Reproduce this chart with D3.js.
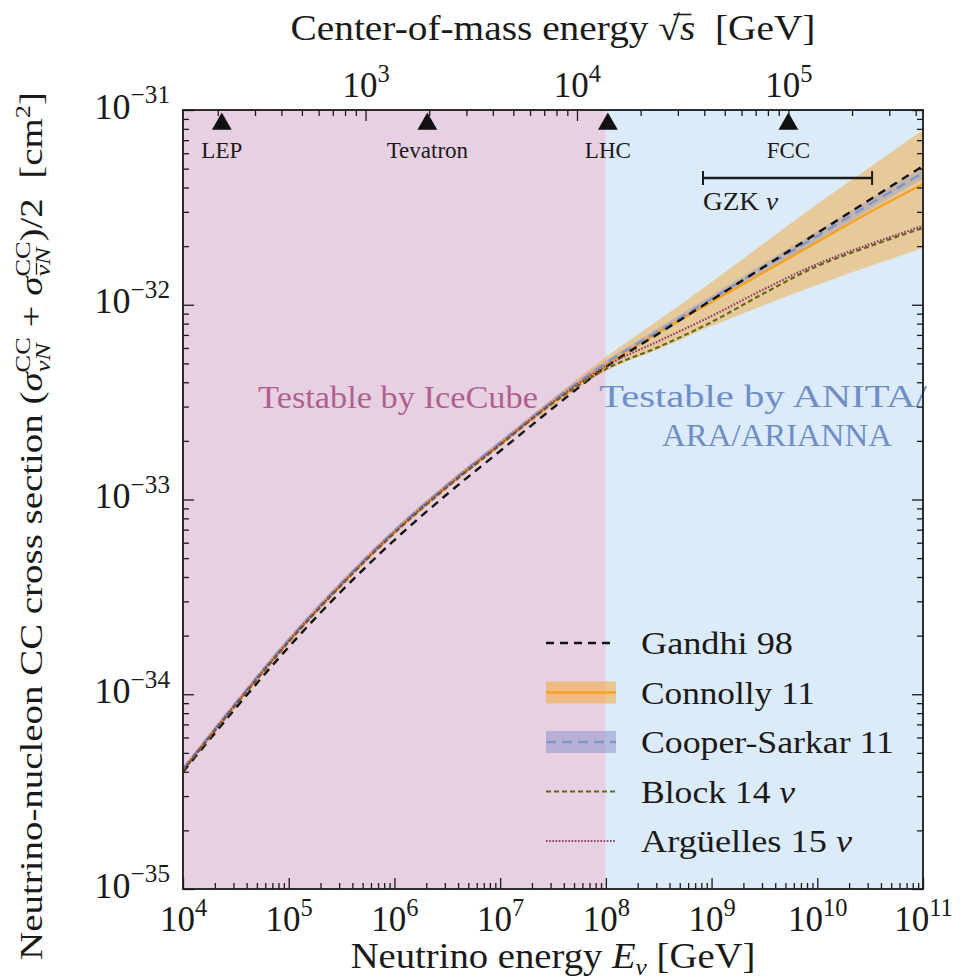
<!DOCTYPE html>
<html>
<head>
<meta charset="UTF-8">
<title>Neutrino-nucleon CC cross section</title>
<style>
body { margin: 0; background: #fff; }
svg text { font-family: "Liberation Serif", "Times New Roman", serif; fill: #1a1a1a; }
.axis .domain { display: none; }
.axis line { stroke: #1a1a1a; }
</style>
</head>
<body>
<div id="chart"></div>
<script src="https://cdn.jsdelivr.net/npm/d3@7"></script>
<script>
// neutrino energies [GeV], half-decade steps
var energy = [1e4, 3.162e4, 1e5, 3.162e5, 1e6, 3.162e6, 1e7, 3.162e7,
              1e8, 3.162e8, 1e9, 3.162e9, 1e10, 3.162e10, 1e11];

// cross sections [cm^2]
var gandhi98 = [3.99e-35, 8.50e-35, 1.748e-34, 3.39e-34, 6.19e-34, 1.067e-33, 1.774e-33, 2.95e-33,
                4.79e-33, 7.12e-33, 1.057e-32, 1.571e-32, 2.335e-32, 3.47e-32, 5.16e-32];
var connolly11 = [4.08e-35, 8.91e-35, 1.877e-34, 3.68e-34, 6.81e-34, 1.173e-33, 1.928e-33, 3.167e-33,
                  4.905e-33, 7.25e-33, 1.033e-32, 1.473e-32, 2.10e-32, 2.995e-32, 4.17e-32];
var connollyHigh = [4.23e-35, 9.23e-35, 1.945e-34, 3.815e-34, 7.055e-34, 1.215e-33, 1.997e-33, 3.32e-33,
                    5.39e-33, 8.35e-33, 1.309e-32, 2.076e-32, 3.29e-32, 5.10e-32, 7.89e-32];
var connollyLow = [3.94e-35, 8.60e-35, 1.811e-34, 3.553e-34, 6.57e-34, 1.132e-33, 1.86e-33, 3.02e-33,
                   4.57e-33, 5.93e-33, 7.78e-33, 9.97e-33, 1.263e-32, 1.58e-32, 1.956e-32];
var cooperSarkar11 = [4.13e-35, 9.02e-35, 1.90e-34, 3.725e-34, 6.89e-34, 1.187e-33, 1.95e-33, 3.205e-33,
                      5.02e-33, 7.33e-33, 1.07e-32, 1.56e-32, 2.25e-32, 3.29e-32, 4.75e-32];
var cooperSarkarHigh = [4.25e-35, 9.29e-35, 1.96e-34, 3.84e-34, 7.10e-34, 1.22e-33, 2.01e-33, 3.30e-33,
                        5.17e-33, 7.62e-33, 1.12e-32, 1.64e-32, 2.39e-32, 3.49e-32, 5.08e-32];
var cooperSarkarLow = [4.01e-35, 8.75e-35, 1.84e-34, 3.61e-34, 6.68e-34, 1.15e-33, 1.89e-33, 3.11e-33,
                       4.87e-33, 7.04e-33, 1.02e-32, 1.48e-32, 2.12e-32, 3.09e-32, 4.42e-32];
var block14 = [4.04e-35, 8.81e-35, 1.855e-34, 3.64e-34, 6.73e-34, 1.159e-33, 1.905e-33, 3.13e-33,
               4.68e-33, 6.07e-33, 8.15e-33, 1.149e-32, 1.58e-32, 2.00e-32, 2.48e-32];
var arguelles15 = [4.08e-35, 8.91e-35, 1.877e-34, 3.68e-34, 6.81e-34, 1.173e-33, 1.928e-33, 3.167e-33,
                   4.85e-33, 6.51e-33, 8.75e-33, 1.205e-32, 1.62e-32, 2.05e-32, 2.54e-32];

// shaded regions
var regionNames = ["IceCube", "ANITA"];
var regionFrom = [1e4, 1e8];
var regionTo = [1e8, 1e11];

// colliders on the sqrt(s) axis [GeV]
var colliders = ["LEP", "Tevatron", "LHC", "FCC"];
var colliderSqrtS = [209, 1960, 14000, 100000];

// GZK neutrino energy range [GeV]
var gzkRange = [8.3e8, 3.3e10];

var xTicks = [1e4, 1e5, 1e6, 1e7, 1e8, 1e9, 1e10, 1e11];
var yTicks = [1e-35, 1e-34, 1e-33, 1e-32, 1e-31];
var topTicks = [1e3, 1e4, 1e5];

var legendNames = ["Gandhi 98", "Connolly 11", "Cooper-Sarkar 11", "Block 14 ", "Arg\u00fcelles 15 "];

var width = 960, height = 980;
var plotL = 183, plotR = 923, plotT = 110, plotB = 889;
var mN = 0.938;

var svg = d3.select("#chart").append("svg")
  .attr("width", width)
  .attr("height", height);

var x = d3.scaleLog().domain([1e4, 1e11]).range([plotL, plotR]);
var y = d3.scaleLog().domain([1e-35, 1e-31]).range([plotB, plotT]);
// sqrt(s) = sqrt(2 m_N E)
var xs = d3.scaleLog()
  .domain([Math.sqrt(2 * mN * 1e4), Math.sqrt(2 * mN * 1e11)])
  .range([plotL, plotR]);

// writes runs of text with sub/superscripts into a text element,
// returns where each run starts and the total advance
function richText(sel, runs) {
  var cur = 0, supLen = 0, pad = 0, cursor = 0, starts = [], lens = [];
  runs.forEach(function(r) {
    var sh = r.shift || 0;
    var ts = sel.append("tspan").text(r.t);
    if (sh - cur) ts.attr("dy", sh - cur);
    cur = sh;
    if (r.fs) ts.attr("font-size", r.fs);
    if (r.it) ts.attr("font-style", "italic");
    var l;
    if (r.stack) {
      ts.attr("dx", -supLen);
      l = ts.node().getComputedTextLength();
      starts.push(cursor - supLen);
      cursor = Math.max(cursor, cursor - supLen + l);
      pad = Math.max(0, supLen - l);
    } else {
      if (pad) ts.attr("dx", pad);
      pad = 0;
      l = ts.node().getComputedTextLength();
      supLen = l;
      starts.push(cursor);
      cursor += l;
    }
    lens.push(l);
  });
  return { starts: starts, lens: lens, total: cursor, nodes: sel.selectAll("tspan").nodes() };
}

// stretch a text horizontally (in its own frame) to a target width
function fitWidth(text, target, tx, ty, rot) {
  var w = text.node().getBBox().width;
  var k = target / w;
  text.attr("transform", "translate(" + tx + "," + ty + ")" + (rot ? " rotate(" + rot + ")" : "") + " scale(" + k + ",1)");
}

svg.append("clipPath").attr("id", "plotclip")
  .append("rect")
  .attr("x", plotL).attr("y", plotT)
  .attr("width", plotR - plotL).attr("height", plotB - plotT);

// background regions
var regionColors = ["#e8d0e3", "#dcebf9"];
svg.selectAll("rect.region")
  .data(regionNames)
  .enter()
  .append("rect")
  .attr("class", "region")
  .attr("x", function(d, i) { return x(regionFrom[i]); })
  .attr("y", plotT)
  .attr("width", function(d, i) { return x(regionTo[i]) - x(regionFrom[i]); })
  .attr("height", plotB - plotT)
  .attr("fill", function(d, i) { return regionColors[i]; });

// region labels
var t1 = svg.append("text")
  .attr("text-anchor", "middle")
  .attr("font-size", 32)
  .style("fill", "#b0608e")
  .text("Testable by IceCube");
fitWidth(t1, 280, 398, 408);
var t2 = svg.append("text")
  .attr("text-anchor", "middle")
  .attr("font-size", 32)
  .style("fill", "#6f8ec6")
  .text("Testable by ANITA/");
fitWidth(t2, 328, 763, 407);
var t3 = svg.append("text")
  .attr("text-anchor", "middle")
  .attr("font-size", 32)
  .style("fill", "#6f8ec6")
  .text("ARA/ARIANNA");
fitWidth(t3, 230, 777, 446);

var plot = svg.append("g").attr("clip-path", "url(#plotclip)");

var band = d3.area()
  .x(function(d, i) { return x(energy[i]); })
  .curve(d3.curveMonotoneX);
var line = d3.line()
  .x(function(d, i) { return x(energy[i]); })
  .y(function(d) { return y(d); })
  .curve(d3.curveMonotoneX);

// uncertainty bands
plot.append("path")
  .datum(connolly11)
  .attr("d", band.y0(function(d, i) { return y(connollyLow[i]); })
                 .y1(function(d, i) { return y(connollyHigh[i]); }))
  .attr("fill", "#f2a93b")
  .attr("fill-opacity", 0.5);
plot.append("path")
  .datum(cooperSarkar11)
  .attr("d", band.y0(function(d, i) { return y(cooperSarkarLow[i]); })
                 .y1(function(d, i) { return y(cooperSarkarHigh[i]); }))
  .attr("fill", "#8f93cc")
  .attr("fill-opacity", 0.4);

// model curves
var curves = [
  { data: connolly11, color: "#f7a21f", w: 2.4, dash: null },
  { data: cooperSarkar11, color: "#7f97c6", w: 2.4, dash: "10,6" },
  { data: gandhi98, color: "#111", w: 2.4, dash: "8,6" },
  { data: block14, color: "#66691c", w: 2.2, dash: "5,3" },
  { data: arguelles15, color: "#8e3d6e", w: 2.2, dash: "1.6,1.6" }
];
plot.selectAll("path.curve")
  .data(curves)
  .enter()
  .append("path")
  .attr("class", "curve")
  .attr("d", function(d) { return line(d.data); })
  .attr("fill", "none")
  .attr("stroke", function(d) { return d.color; })
  .attr("stroke-width", function(d) { return d.w; })
  .attr("stroke-dasharray", function(d) { return d.dash; });

// GZK range bar
var gzk = svg.append("g");
gzk.append("line")
  .attr("x1", x(gzkRange[0])).attr("x2", x(gzkRange[1]))
  .attr("y1", 178).attr("y2", 178)
  .attr("stroke", "#1a1a1a").attr("stroke-width", 2.6);
gzk.selectAll("line.cap")
  .data(gzkRange)
  .enter()
  .append("line")
  .attr("class", "cap")
  .attr("x1", function(d) { return x(d); }).attr("x2", function(d) { return x(d); })
  .attr("y1", 171).attr("y2", 185)
  .attr("stroke", "#1a1a1a").attr("stroke-width", 2);
var gzkText = gzk.append("text").attr("font-size", 25);
richText(gzkText, [{ t: "GZK " }, { t: "\u03bd", it: true }]);
fitWidth(gzkText, 76, x(gzkRange[0]), 210);

// collider markers
var cm = svg.selectAll("g.collider")
  .data(colliders)
  .enter()
  .append("g")
  .attr("class", "collider")
  .attr("transform", function(d, i) { return "translate(" + xs(colliderSqrtS[i]) + ",0)"; });
cm.append("path")
  .attr("d", d3.symbol(d3.symbolTriangle, 170))
  .attr("transform", "translate(0,124)")
  .attr("fill", "#111");
cm.append("text")
  .attr("y", 158)
  .attr("text-anchor", "middle")
  .attr("font-size", 23)
  .text(function(d) { return d; });

// axes
function minorOf(scale, majors) {
  return scale.ticks().filter(function(v) {
    return !majors.some(function(m) { return Math.abs(v / m - 1) < 1e-6; });
  });
}
function expLabels(g, size) {
  g.selectAll(".tick text").each(function(d) {
    var t = d3.select(this).text("").attr("font-size", size);
    var e = Math.round(Math.log10(d));
    richText(t, [
      { t: "10" },
      { t: (e < 0 ? "\u2212" + (-e) : "" + e), fs: size * 0.7, shift: -size * 0.42 }
    ]);
  });
}

var gxB = svg.append("g").attr("class", "axis")
  .attr("transform", "translate(0," + plotB + ")")
  .call(d3.axisBottom(x).tickValues(xTicks).tickSize(-11).tickPadding(16));
gxB.selectAll(".tick text").attr("dy", null).attr("y", 42);
expLabels(gxB, 35);
svg.append("g").attr("class", "axis")
  .attr("transform", "translate(0," + plotB + ")")
  .call(d3.axisBottom(x).tickValues(minorOf(x, xTicks)).tickSize(-6).tickFormat(""));

var gyL = svg.append("g").attr("class", "axis")
  .attr("transform", "translate(" + plotL + ",0)")
  .call(d3.axisLeft(y).tickValues(yTicks).tickSize(-11).tickPadding(13));
gyL.selectAll(".tick text").attr("dy", null).attr("y", 8);
expLabels(gyL, 36);
svg.append("g").attr("class", "axis")
  .attr("transform", "translate(" + plotL + ",0)")
  .call(d3.axisLeft(y).tickValues(minorOf(y, yTicks)).tickSize(-6).tickFormat(""));

svg.append("g").attr("class", "axis")
  .attr("transform", "translate(" + plotR + ",0)")
  .call(d3.axisRight(y).tickValues(yTicks).tickSize(-11).tickFormat(""));
svg.append("g").attr("class", "axis")
  .attr("transform", "translate(" + plotR + ",0)")
  .call(d3.axisRight(y).tickValues(minorOf(y, yTicks)).tickSize(-6).tickFormat(""));

var gxT = svg.append("g").attr("class", "axis")
  .attr("transform", "translate(0," + plotT + ")")
  .call(d3.axisTop(xs).tickValues(topTicks).tickSize(-11).tickPadding(13));
gxT.selectAll(".tick text").attr("dy", null).attr("y", -13);
expLabels(gxT, 35);
svg.append("g").attr("class", "axis")
  .attr("transform", "translate(0," + plotT + ")")
  .call(d3.axisTop(xs).tickValues(minorOf(xs, topTicks)).tickSize(-6).tickFormat(""));

svg.selectAll(".axis .tick line").attr("stroke-width", 1.3);

// frame
svg.append("rect")
  .attr("x", plotL).attr("y", plotT)
  .attr("width", plotR - plotL).attr("height", plotB - plotT)
  .attr("fill", "none").attr("stroke", "#1a1a1a").attr("stroke-width", 1.8);

// axis titles
var xTitle = svg.append("text")
  .attr("text-anchor", "middle")
  .attr("font-size", 35);
richText(xTitle, [
  { t: "Neutrino energy " },
  { t: "E", it: true },
  { t: "\u03bd", it: true, fs: 23, shift: 7 },
  { t: "\u00a0[GeV]" }
]);
fitWidth(xTitle, 405, 553, 968);

var topG = svg.append("g").attr("class", "top-title");
var topTitle = topG.append("text")
  .attr("text-anchor", "middle")
  .attr("font-size", 35);
var topRuns = richText(topTitle, [
  { t: "Center-of-mass energy " },
  { t: "\u221a" },
  { t: "s", it: true },
  { t: "\u00a0\u00a0[GeV]" }
]);
// radical bar over s
var topX0 = -topRuns.total / 2;
topG.append("line")
  .attr("x1", topX0 + topRuns.starts[1] + topRuns.lens[1] - 1.5)
  .attr("x2", topX0 + topRuns.starts[2] + topRuns.lens[2] + 1)
  .attr("y1", -25.5).attr("y2", -25.5)
  .attr("stroke", "#1a1a1a").attr("stroke-width", 1.6);
fitWidth(topG, 525, 553, 40);

var yG = svg.append("g").attr("class", "y-title");
var yTitle = yG.append("text")
  .attr("text-anchor", "middle")
  .attr("font-size", 31);
var yRuns = richText(yTitle, [
  { t: "Neutrino-nucleon CC cross section (" },
  { t: "\u03c3", it: true },
  { t: "CC", fs: 21, shift: -12 },
  { t: "\u03bdN", it: true, fs: 21, shift: 8, stack: true },
  { t: "\u00a0+\u00a0" },
  { t: "\u03c3", it: true },
  { t: "CC", fs: 21, shift: -12 },
  { t: "\u03bdN", it: true, fs: 21, shift: 8, stack: true },
  { t: ")/2\u00a0\u00a0[cm" },
  { t: "2", fs: 21, shift: -12 },
  { t: "]" }
]);
// bar over the antineutrino symbol
var nuStart = -yRuns.total / 2 + yRuns.starts[7];
var nuLen = yRuns.nodes[7].getSubStringLength(0, 1);
yG.append("line")
  .attr("x1", nuStart + 1.5).attr("x2", nuStart + nuLen + 1.5)
  .attr("y1", -5.5).attr("y2", -5.5)
  .attr("stroke", "#1a1a1a").attr("stroke-width", 1.3);
fitWidth(yG, 868, 42, 526, -90);

// legend
var legendY0 = 643, legendStep = 49.5;
var lg = svg.selectAll("g.legend")
  .data(legendNames)
  .enter()
  .append("g")
  .attr("class", "legend")
  .attr("transform", function(d, i) { return "translate(546," + (legendY0 + i * legendStep) + ")"; });

var handleStyle = [
  { color: "#111", w: 2.4, dash: "8,6", band: null },
  { color: "#f7a21f", w: 2.4, dash: null, band: "#f2a93b" },
  { color: "#7f97c6", w: 2.4, dash: "10,6", band: "#8f93cc" },
  { color: "#66691c", w: 2.2, dash: "5,3", band: null },
  { color: "#8e3d6e", w: 2.2, dash: "1.6,1.6", band: null }
];
lg.filter(function(d, i) { return handleStyle[i].band; })
  .append("rect")
  .attr("x", 0).attr("y", -11)
  .attr("width", 70).attr("height", 22)
  .attr("fill", function(d) { return handleStyle[legendNames.indexOf(d)].band; })
  .attr("fill-opacity", 0.55);
lg.append("line")
  .attr("x1", 0).attr("x2", 70)
  .attr("stroke", function(d, i) { return handleStyle[i].color; })
  .attr("stroke-width", function(d, i) { return handleStyle[i].w; })
  .attr("stroke-dasharray", function(d, i) { return handleStyle[i].dash; });
var legendWidths = [152, 174, 253, 155, 212];
lg.append("text")
  .attr("font-size", 32)
  .each(function(d, i) {
    var t = d3.select(this);
    var runs = [{ t: d }];
    if (i >= 3) runs.push({ t: "\u03bd", it: true });
    richText(t, runs);
    fitWidth(t, legendWidths[i], 95, 11);
  });
</script>
</body>
</html>
